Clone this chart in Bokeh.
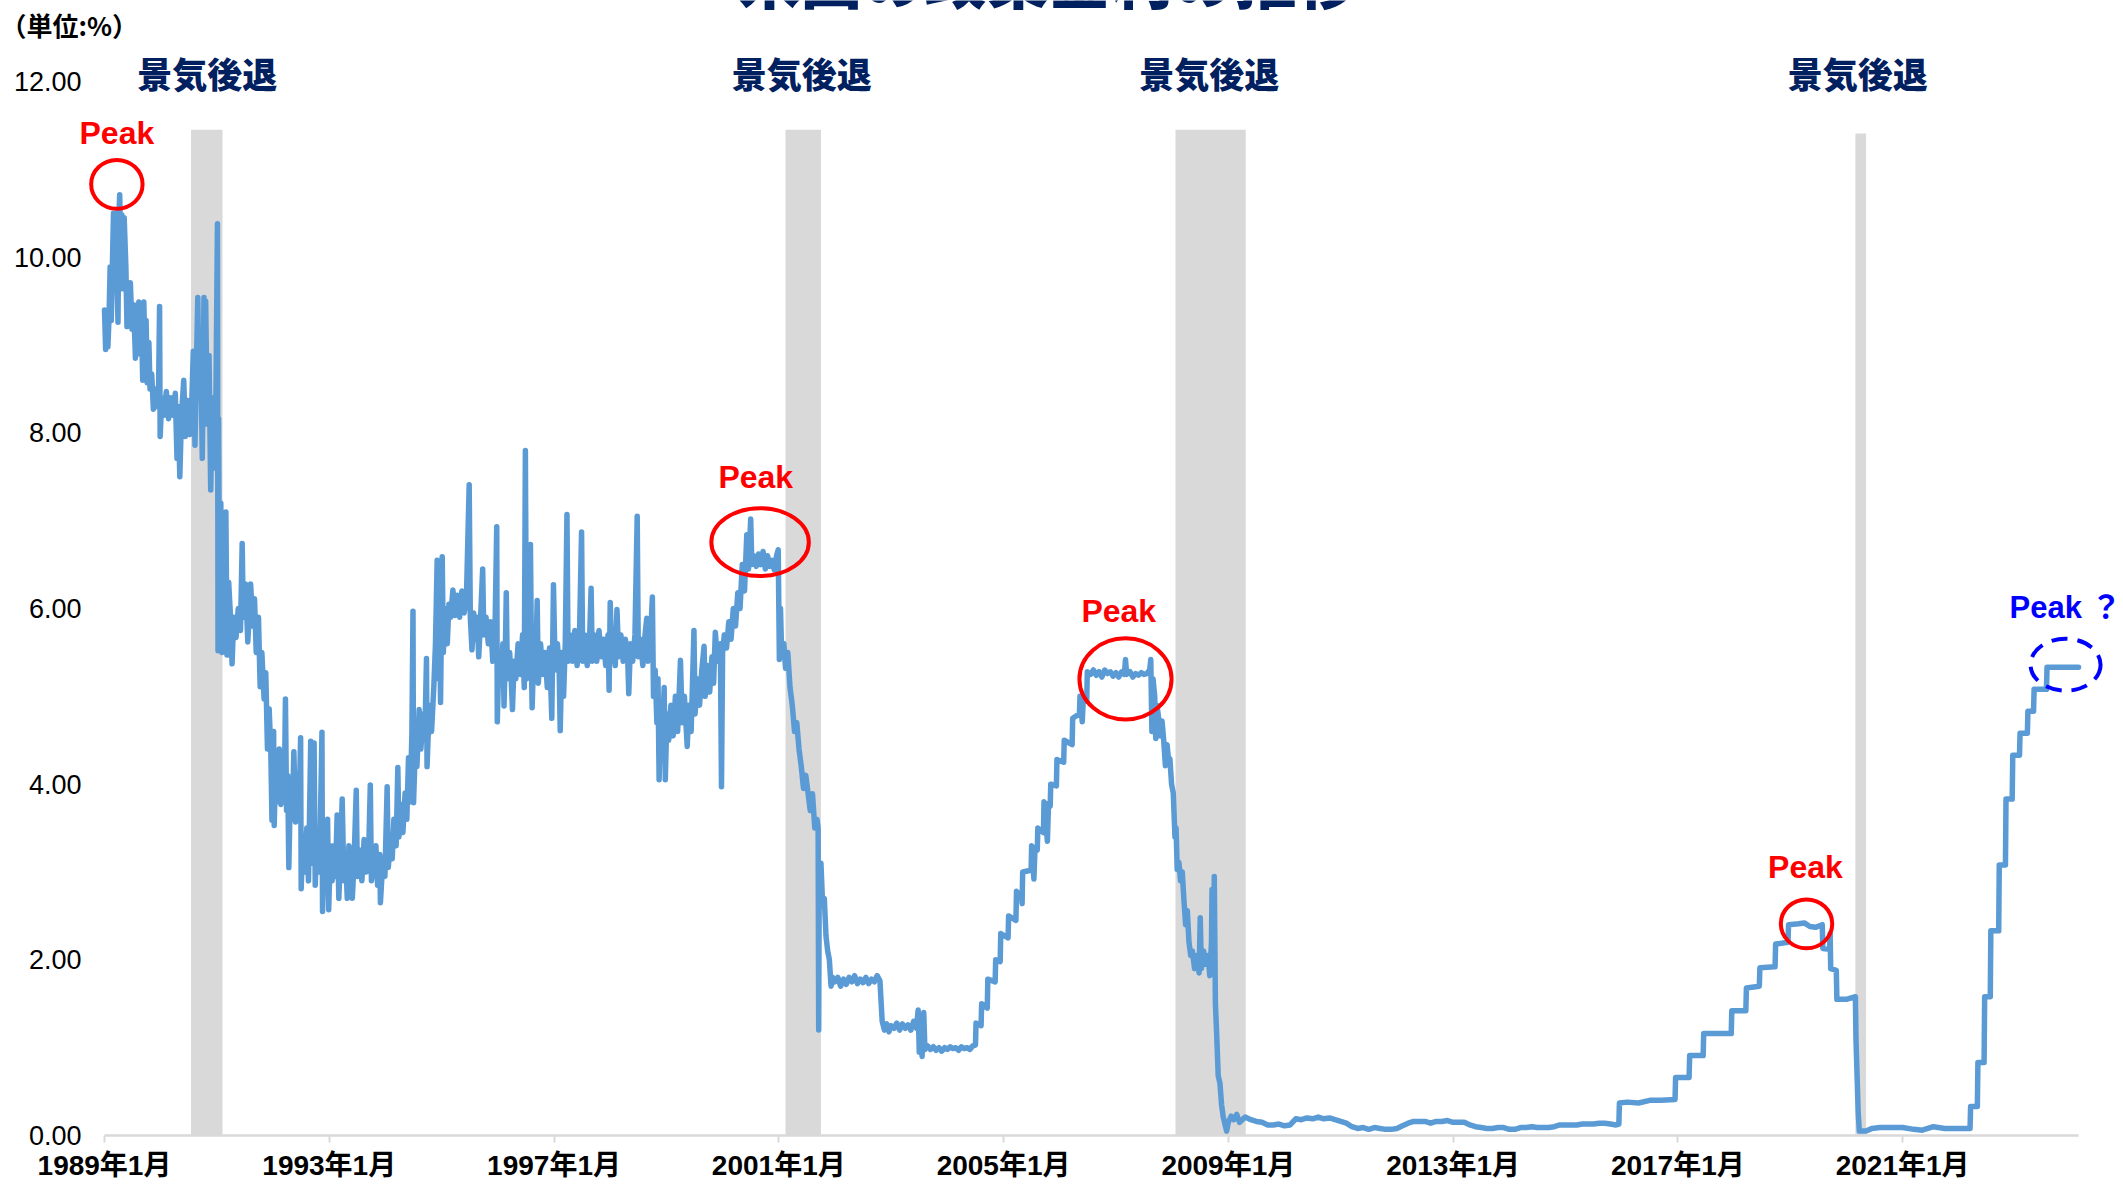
from bokeh.plotting import figure
from bokeh.models import FixedTicker, NumeralTickFormatter, Label
from bokeh.core.properties import value
from bokeh.embed import file_html
from bokeh.resources import INLINE

# ---------------- data (fractional year, effective policy rate %) ----------------
rate_1989_1990 = [
    (1989.00, 9.40), (1989.02, 8.95), (1989.04, 9.38), (1989.06, 8.98), (1989.08, 9.30),
    (1989.10, 9.89), (1989.12, 9.28), (1989.14, 9.90), (1989.16, 10.50), (1989.18, 9.95),
    (1989.20, 10.50), (1989.22, 9.85), (1989.24, 9.26), (1989.255, 10.45), (1989.27, 10.71),
    (1989.29, 10.10), (1989.31, 10.48), (1989.33, 9.64), (1989.35, 10.45), (1989.38, 9.90),
    (1989.40, 9.21), (1989.42, 9.70), (1989.44, 9.35), (1989.46, 9.71), (1989.49, 9.18),
    (1989.52, 9.46), (1989.55, 8.85), (1989.58, 9.30), (1989.61, 9.49), (1989.63, 8.90),
    (1989.66, 9.20), (1989.68, 8.60), (1989.70, 9.49), (1989.72, 8.80), (1989.74, 9.28),
    (1989.76, 8.57), (1989.79, 9.03), (1989.81, 8.50), (1989.84, 8.67), (1989.87, 8.27),
    (1989.90, 8.50), (1989.93, 8.30), (1989.96, 8.40), (1989.98, 9.44), (1989.99, 7.96),
    (1990.02, 8.40), (1990.06, 8.20), (1990.10, 8.47), (1990.14, 8.16), (1990.18, 8.40),
    (1990.22, 8.20), (1990.26, 8.45), (1990.29, 7.71), (1990.31, 8.30), (1990.34, 7.50),
    (1990.37, 8.20), (1990.41, 8.60), (1990.44, 7.96), (1990.48, 8.37), (1990.52, 7.98),
    (1990.55, 8.30), (1990.58, 8.93), (1990.61, 7.86), (1990.64, 8.90), (1990.66, 9.54),
    (1990.68, 8.40), (1990.71, 9.00), (1990.74, 7.71), (1990.77, 9.54), (1990.79, 8.20),
    (1990.80, 9.50), (1990.83, 8.10), (1990.86, 8.88), (1990.89, 7.35), (1990.92, 8.40),
    (1990.95, 7.60), (1990.98, 8.20),
]
rate_1991_1993 = [
    (1991.01, 10.38), (1991.02, 5.52), (1991.03, 8.16), (1991.05, 5.55), (1991.07, 7.20),
    (1991.09, 5.50), (1991.11, 6.90), (1991.14, 6.03), (1991.16, 7.10), (1991.18, 5.47),
    (1991.21, 6.30), (1991.24, 5.93), (1991.27, 5.37), (1991.30, 5.90), (1991.34, 5.67),
    (1991.38, 6.00), (1991.42, 5.75), (1991.45, 6.74), (1991.47, 5.90), (1991.51, 6.28),
    (1991.55, 5.62), (1991.58, 6.00), (1991.60, 6.28), (1991.64, 5.80), (1991.67, 6.11),
    (1991.70, 5.50), (1991.74, 5.90), (1991.77, 5.11), (1991.80, 5.50), (1991.84, 4.97),
    (1991.87, 5.27), (1991.90, 4.40), (1991.93, 4.86), (1991.96, 4.37), (1991.98, 3.59),
    (1992.01, 4.60), (1992.02, 3.53), (1992.05, 4.30), (1992.08, 3.80), (1992.11, 4.40),
    (1992.14, 3.77), (1992.17, 4.20), (1992.20, 3.90), (1992.22, 4.97), (1992.24, 3.70),
    (1992.26, 4.10), (1992.28, 3.05), (1992.31, 4.00), (1992.34, 3.60), (1992.37, 4.37),
    (1992.40, 3.57), (1992.43, 4.10), (1992.46, 3.60), (1992.49, 4.53), (1992.50, 2.81),
    (1992.53, 3.40), (1992.56, 3.00), (1992.60, 3.50), (1992.63, 2.90), (1992.67, 4.49),
    (1992.69, 3.10), (1992.71, 3.30), (1992.73, 4.47), (1992.75, 2.85), (1992.78, 3.40),
    (1992.81, 3.00), (1992.84, 3.50), (1992.87, 4.59), (1992.88, 2.55), (1992.91, 3.30),
    (1992.94, 2.90), (1992.97, 3.60), (1992.99, 2.57), (1993.02, 3.30), (1993.05, 2.90),
    (1993.08, 3.30), (1993.11, 2.95), (1993.14, 3.65), (1993.17, 2.70), (1993.20, 3.20),
    (1993.23, 3.83), (1993.26, 2.90), (1993.29, 3.20), (1993.32, 2.70), (1993.35, 3.30),
    (1993.38, 2.95), (1993.41, 2.70), (1993.44, 3.10), (1993.48, 3.93), (1993.50, 2.95),
    (1993.54, 3.25), (1993.58, 2.90), (1993.62, 3.37), (1993.66, 3.00), (1993.70, 3.20),
    (1993.73, 3.99), (1993.75, 2.90), (1993.79, 3.10), (1993.83, 3.30), (1993.86, 2.85),
    (1993.90, 3.20), (1993.91, 2.65), (1993.95, 3.10), (1993.99, 2.95),
]
rate_1994_1996 = [
    (1994.03, 3.97), (1994.05, 3.05), (1994.09, 3.35), (1994.12, 3.15), (1994.15, 3.60),
    (1994.19, 3.30), (1994.22, 4.19), (1994.24, 3.40), (1994.28, 3.77), (1994.31, 3.45),
    (1994.35, 3.90), (1994.38, 3.60), (1994.41, 4.30), (1994.44, 3.80), (1994.47, 4.57),
    (1994.49, 5.97), (1994.50, 3.79), (1994.53, 4.40), (1994.56, 4.20), (1994.60, 4.85),
    (1994.63, 4.40), (1994.67, 4.80), (1994.70, 4.50), (1994.73, 5.43), (1994.74, 4.20),
    (1994.78, 4.90), (1994.82, 4.60), (1994.86, 5.10), (1994.89, 5.60), (1994.92, 6.55),
    (1994.94, 5.20), (1994.97, 5.70), (1994.98, 4.93), (1995.01, 6.59), (1995.03, 5.50),
    (1995.06, 6.00), (1995.10, 5.60), (1995.13, 6.05), (1995.16, 5.90), (1995.20, 6.21),
    (1995.24, 5.92), (1995.28, 6.15), (1995.32, 5.90), (1995.36, 6.20), (1995.40, 5.95),
    (1995.44, 6.10), (1995.49, 7.41), (1995.51, 5.90), (1995.54, 5.53), (1995.57, 5.95),
    (1995.60, 5.65), (1995.63, 5.90), (1995.66, 5.45), (1995.69, 5.85), (1995.73, 6.45),
    (1995.75, 5.70), (1995.79, 5.90), (1995.83, 5.60), (1995.87, 5.85), (1995.91, 5.40),
    (1995.95, 5.77), (1995.98, 6.93), (1995.99, 4.71), (1996.02, 5.50), (1996.06, 5.20),
    (1996.09, 5.60), (1996.11, 4.89), (1996.13, 5.40), (1996.15, 6.18), (1996.17, 5.20),
    (1996.21, 5.50), (1996.24, 5.17), (1996.26, 4.85), (1996.29, 5.40), (1996.32, 5.20),
    (1996.36, 5.60), (1996.40, 5.25), (1996.44, 5.70), (1996.47, 5.10), (1996.49, 7.80),
    (1996.51, 5.20), (1996.55, 5.60), (1996.58, 6.73), (1996.60, 5.30), (1996.61, 4.87),
    (1996.64, 5.50), (1996.67, 5.20), (1996.70, 6.09), (1996.72, 5.15), (1996.76, 5.60),
    (1996.80, 5.25), (1996.84, 5.50), (1996.88, 5.10), (1996.92, 5.55), (1996.96, 4.75),
    (1996.99, 6.27),
]
rate_1997_1999 = [
    (1997.02, 5.30), (1997.06, 5.60), (1997.09, 5.35), (1997.11, 4.61), (1997.14, 5.50),
    (1997.17, 5.00), (1997.20, 5.60), (1997.23, 7.07), (1997.25, 5.40), (1997.29, 5.70),
    (1997.33, 5.40), (1997.37, 5.75), (1997.41, 5.35), (1997.45, 5.60), (1997.49, 6.87),
    (1997.51, 5.40), (1997.55, 5.70), (1997.59, 5.35), (1997.63, 5.60), (1997.66, 6.23),
    (1997.68, 5.40), (1997.72, 5.70), (1997.76, 5.40), (1997.80, 5.75), (1997.84, 5.45),
    (1997.88, 5.65), (1997.92, 5.35), (1997.96, 5.70), (1997.98, 5.07), (1998.00, 6.07),
    (1998.03, 5.40), (1998.06, 5.70), (1998.09, 5.35), (1998.12, 5.99), (1998.15, 5.45),
    (1998.19, 5.70), (1998.23, 5.40), (1998.27, 5.65), (1998.31, 5.45), (1998.33, 5.03),
    (1998.36, 5.60), (1998.40, 5.40), (1998.44, 5.70), (1998.48, 7.05), (1998.50, 5.45),
    (1998.54, 5.65), (1998.58, 5.35), (1998.62, 5.70), (1998.65, 5.89), (1998.67, 5.40),
    (1998.71, 5.55), (1998.75, 6.13), (1998.77, 5.00), (1998.80, 5.30), (1998.83, 4.70),
    (1998.85, 5.20), (1998.87, 4.05), (1998.90, 4.90), (1998.93, 4.60), (1998.96, 5.10),
    (1998.98, 4.05), (1999.01, 4.80), (1999.04, 4.50), (1999.08, 4.90), (1999.12, 4.55),
    (1999.16, 5.00), (1999.20, 4.60), (1999.25, 5.41), (1999.28, 4.70), (1999.32, 5.00),
    (1999.37, 4.43), (1999.40, 4.90), (1999.44, 4.60), (1999.49, 5.75), (1999.51, 4.80),
    (1999.55, 5.20), (1999.59, 4.90), (1999.63, 5.30), (1999.67, 5.57), (1999.69, 5.00),
    (1999.73, 5.35), (1999.77, 5.05), (1999.81, 5.45), (1999.84, 5.15), (1999.87, 5.73),
    (1999.91, 5.40), (1999.96, 5.60), (1999.98, 3.97),
]
rate_2000_2004 = [
    (2000.00, 5.50), (2000.03, 5.70), (2000.07, 5.55), (2000.11, 5.85), (2000.15, 5.65),
    (2000.19, 6.00), (2000.23, 5.80), (2000.27, 6.18), (2000.31, 6.00), (2000.35, 6.50),
    (2000.39, 6.20), (2000.43, 6.84), (2000.46, 6.45), (2000.50, 7.02), (2000.52, 6.50),
    (2000.56, 6.60), (2000.60, 6.48), (2000.64, 6.62), (2000.68, 6.50), (2000.72, 6.65),
    (2000.76, 6.45), (2000.80, 6.60), (2000.84, 6.48), (2000.88, 6.55), (2000.92, 6.44),
    (2000.96, 6.60), (2000.99, 6.67), (2001.01, 5.42), (2001.03, 6.00), (2001.05, 5.50),
    (2001.09, 5.60), (2001.12, 5.32), (2001.16, 5.50), (2001.20, 5.10), (2001.24, 4.90),
    (2001.28, 4.60), (2001.32, 4.70), (2001.36, 4.40), (2001.40, 4.20), (2001.44, 3.95),
    (2001.48, 4.10), (2001.52, 3.90), (2001.56, 3.70), (2001.60, 3.89), (2001.64, 3.50),
    (2001.68, 3.60), (2001.70, 3.50), (2001.71, 1.20), (2001.72, 3.00), (2001.75, 3.10),
    (2001.78, 2.62), (2001.81, 2.70), (2001.84, 2.27), (2001.87, 2.10), (2001.90, 2.00),
    (2001.93, 1.70), (2001.96, 1.80), (2002.00, 1.75), (2002.05, 1.80), (2002.10, 1.70),
    (2002.15, 1.78), (2002.20, 1.72), (2002.25, 1.80), (2002.30, 1.75), (2002.35, 1.82),
    (2002.40, 1.73), (2002.45, 1.78), (2002.50, 1.74), (2002.55, 1.80), (2002.60, 1.73),
    (2002.65, 1.78), (2002.70, 1.75), (2002.75, 1.82), (2002.80, 1.76), (2002.84, 1.30),
    (2002.88, 1.20), (2002.92, 1.27), (2002.96, 1.18), (2003.00, 1.25), (2003.05, 1.22),
    (2003.10, 1.28), (2003.15, 1.20), (2003.20, 1.27), (2003.25, 1.22), (2003.30, 1.26),
    (2003.35, 1.20), (2003.40, 1.30), (2003.45, 1.22), (2003.48, 1.43), (2003.50, 0.95),
    (2003.53, 1.10), (2003.55, 0.90), (2003.58, 1.40), (2003.60, 0.98), (2003.65, 1.02),
    (2003.70, 0.98), (2003.75, 1.01), (2003.80, 0.97), (2003.85, 1.00), (2003.90, 0.96),
    (2003.95, 1.00), (2004.00, 0.98), (2004.05, 1.01), (2004.10, 0.99), (2004.15, 1.00),
    (2004.20, 0.97), (2004.25, 1.01), (2004.30, 0.99), (2004.35, 1.00), (2004.40, 0.98),
    (2004.45, 1.02),
]
rate_2004_2008 = [
    (2004.50, 1.03), (2004.51, 1.28), (2004.60, 1.25), (2004.61, 1.50), (2004.71, 1.45),
    (2004.72, 1.78), (2004.85, 1.75), (2004.86, 2.00), (2004.94, 1.98), (2004.95, 2.30),
    (2005.08, 2.25), (2005.09, 2.50), (2005.22, 2.45), (2005.23, 2.78), (2005.32, 2.72),
    (2005.33, 2.64), (2005.34, 3.00), (2005.49, 3.02), (2005.50, 3.30), (2005.54, 2.92),
    (2005.56, 3.28), (2005.60, 3.25), (2005.61, 3.50), (2005.71, 3.45), (2005.72, 3.80),
    (2005.78, 3.35), (2005.80, 3.78), (2005.83, 3.75), (2005.84, 4.00), (2005.94, 3.98),
    (2005.95, 4.28), (2006.07, 4.25), (2006.08, 4.50), (2006.22, 4.45), (2006.23, 4.75),
    (2006.35, 4.80), (2006.36, 5.00), (2006.40, 4.71), (2006.42, 4.98), (2006.48, 4.95),
    (2006.49, 5.28), (2006.55, 5.25), (2006.60, 5.30), (2006.65, 5.24), (2006.70, 5.28),
    (2006.75, 5.22), (2006.80, 5.30), (2006.85, 5.26), (2006.90, 5.28), (2006.95, 5.23),
    (2007.00, 5.27), (2007.05, 5.22), (2007.10, 5.28), (2007.15, 5.25), (2007.17, 5.42),
    (2007.19, 5.25), (2007.25, 5.28), (2007.30, 5.22), (2007.35, 5.26), (2007.40, 5.24),
    (2007.45, 5.27), (2007.50, 5.25), (2007.55, 5.26), (2007.60, 5.30), (2007.62, 5.42),
    (2007.64, 4.60), (2007.66, 5.20), (2007.69, 5.00), (2007.71, 4.52), (2007.73, 4.90),
    (2007.76, 4.75), (2007.79, 4.55), (2007.82, 4.72), (2007.85, 4.50), (2007.88, 4.21),
    (2007.91, 4.45), (2007.94, 4.25), (2007.96, 4.29), (2007.99, 4.00), (2008.02, 3.90),
    (2008.05, 3.40), (2008.07, 3.50), (2008.09, 3.03), (2008.12, 3.11), (2008.15, 2.90),
    (2008.18, 3.00), (2008.21, 2.68), (2008.24, 2.40), (2008.27, 2.56), (2008.30, 2.20),
    (2008.33, 2.05), (2008.36, 2.10), (2008.40, 1.90), (2008.44, 2.05), (2008.48, 1.85),
    (2008.50, 2.48), (2008.52, 1.90), (2008.56, 2.10), (2008.60, 1.95), (2008.64, 2.05),
    (2008.67, 1.82), (2008.70, 2.20), (2008.71, 2.80), (2008.73, 2.10), (2008.75, 2.95),
    (2008.77, 1.50), (2008.79, 1.20), (2008.82, 0.68), (2008.85, 0.60), (2008.88, 0.35),
    (2008.91, 0.21), (2008.94, 0.13), (2008.97, 0.05),
]
rate_2009_2015 = [
    (2009.00, 0.15), (2009.05, 0.22), (2009.10, 0.18), (2009.15, 0.24), (2009.20, 0.15),
    (2009.30, 0.21), (2009.40, 0.18), (2009.50, 0.16), (2009.60, 0.15), (2009.70, 0.12),
    (2009.80, 0.12), (2009.90, 0.13), (2010.00, 0.11), (2010.10, 0.12), (2010.20, 0.19),
    (2010.30, 0.18), (2010.40, 0.20), (2010.50, 0.19), (2010.60, 0.21), (2010.70, 0.19),
    (2010.80, 0.20), (2010.90, 0.18), (2011.00, 0.16), (2011.10, 0.14), (2011.20, 0.10),
    (2011.30, 0.08), (2011.40, 0.09), (2011.50, 0.07), (2011.60, 0.09), (2011.70, 0.08),
    (2011.80, 0.07), (2011.90, 0.07), (2012.00, 0.08), (2012.10, 0.11), (2012.20, 0.14),
    (2012.30, 0.16), (2012.40, 0.16), (2012.50, 0.16), (2012.60, 0.14), (2012.70, 0.16),
    (2012.80, 0.16), (2012.90, 0.17), (2013.00, 0.15), (2013.10, 0.15), (2013.20, 0.15),
    (2013.30, 0.12), (2013.40, 0.10), (2013.50, 0.09), (2013.60, 0.08), (2013.70, 0.08),
    (2013.80, 0.09), (2013.90, 0.09), (2014.00, 0.07), (2014.10, 0.07), (2014.20, 0.09),
    (2014.30, 0.09), (2014.40, 0.10), (2014.50, 0.09), (2014.60, 0.09), (2014.70, 0.09),
    (2014.80, 0.10), (2014.90, 0.12), (2015.00, 0.12), (2015.10, 0.12), (2015.20, 0.12),
    (2015.30, 0.13), (2015.40, 0.13), (2015.50, 0.13), (2015.60, 0.14), (2015.70, 0.14),
    (2015.80, 0.13), (2015.90, 0.12), (2015.95, 0.13),
]
rate_2016_2024 = [
    (2015.96, 0.37), (2016.10, 0.38), (2016.30, 0.37), (2016.50, 0.40), (2016.70, 0.40),
    (2016.95, 0.41), (2016.96, 0.66), (2017.20, 0.66), (2017.21, 0.91), (2017.45, 0.91),
    (2017.46, 1.16), (2017.95, 1.16), (2017.96, 1.42), (2018.21, 1.42), (2018.22, 1.68),
    (2018.45, 1.70), (2018.46, 1.91), (2018.73, 1.92), (2018.74, 2.18), (2018.96, 2.20),
    (2018.97, 2.40), (2019.15, 2.41), (2019.25, 2.42), (2019.35, 2.38), (2019.45, 2.37),
    (2019.57, 2.40), (2019.58, 2.13), (2019.70, 2.12), (2019.71, 2.30), (2019.72, 1.90),
    (2019.82, 1.88), (2019.83, 1.55), (2020.00, 1.55), (2020.16, 1.58), (2020.17, 1.10),
    (2020.21, 0.25), (2020.23, 0.05), (2020.35, 0.05), (2020.45, 0.08), (2020.60, 0.09),
    (2020.80, 0.09), (2021.00, 0.09), (2021.20, 0.07), (2021.35, 0.06), (2021.55, 0.10),
    (2021.75, 0.08), (2022.00, 0.08), (2022.20, 0.08), (2022.21, 0.33), (2022.33, 0.33),
    (2022.34, 0.83), (2022.45, 0.83), (2022.46, 1.58), (2022.56, 1.58), (2022.57, 2.33),
    (2022.71, 2.33), (2022.72, 3.08), (2022.83, 3.08), (2022.84, 3.83), (2022.95, 3.83),
    (2022.96, 4.33), (2023.08, 4.33), (2023.09, 4.58), (2023.22, 4.58), (2023.23, 4.83),
    (2023.33, 4.83), (2023.34, 5.08), (2023.56, 5.08), (2023.57, 5.33), (2023.80, 5.33),
    (2024.00, 5.33), (2024.13, 5.33),
]

# recession periods (shaded)
recession_start = [1990.54, 2001.12, 2008.06, 2020.16]
recession_end = [1991.10, 2001.75, 2009.31, 2020.35]
recession_top = [11.45, 11.45, 11.45, 11.41]
recession_label_x = [1990.83, 2001.41, 2008.66, 2020.20]
recession_label_y = [12.10, 12.10, 12.10, 12.10]
recession_label = ["景気後退", "景気後退", "景気後退", "景気後退"]

# peak markers (red) and the open question (blue)
peak_x = [1989.22, 2000.667, 2007.17, 2019.29]
peak_y = [10.83, 6.756, 5.199, 2.41]
peak_w = [0.915, 1.735, 1.64, 0.915]
peak_h = [0.556, 0.771, 0.925, 0.556]
peak_label_x = [1989.22, 2000.59, 2007.05, 2019.27]
peak_label_y = [11.41, 7.50, 5.97, 3.06]
peak_label = ["Peak", "Peak", "Peak", "Peak"]
next_peak_x, next_peak_y, next_peak_w, next_peak_h = [2023.90], [5.36], [1.246], [0.592]
next_peak_label_x, next_peak_label_y = [2023.90], [6.01]
next_peak_label = ["Peak ？"]

tick_years = [1989, 1993, 1997, 2001, 2005, 2009, 2013, 2017, 2021]
tick_labels = ["1989年1月", "1993年1月", "1997年1月", "2001年1月", "2005年1月",
               "2009年1月", "2013年1月", "2017年1月", "2021年1月"]
y_ticks = [0, 2, 4, 6, 8, 10, 12]

title_text = "米国の政策金利の推移"
unit_text = "（単位:%）"

# ---------------- assemble ----------------
series = (rate_1989_1990 + rate_1991_1993 + rate_1994_1996 + rate_1997_1999 +
          rate_2000_2004 + rate_2004_2008 + rate_2009_2015 + rate_2016_2024)
years = [t for t, _ in series]
rates = [r for _, r in series]

CJK = "Noto Sans CJK JP"
CJK_HEAVY = "Noto Sans CJK JP Black, Noto Sans CJK JP"
LATIN = "Liberation Sans, Noto Sans CJK JP"

W, H = 2123, 1184
# the frame covers the whole canvas; the axes are pinned at x=1989 and y=0
p = figure(width=W, height=H, output_backend="svg", toolbar_location=None,
           x_range=(1987.149, 2024.931), y_range=(-0.558, 12.923),
           min_border_left=0, min_border_right=0, min_border_top=0, min_border_bottom=0,
           background_fill_color="white", border_fill_color="white")
p.outline_line_color = None
p.grid.visible = False

# recession bands
p.quad(left=recession_start, right=recession_end, bottom=0, top=recession_top,
       fill_color="#d9d9d9", line_color=None)

# rate line
p.line(years, rates, line_color="#5b9bd5", line_width=5.5, line_join="round", line_cap="round")

# recession labels
p.text(x=recession_label_x, y=recession_label_y, text=recession_label,
       text_font=value(CJK_HEAVY), text_font_style="bold", text_font_size="35px",
       text_color="#002060", text_align="center", text_baseline="middle")

# peak ellipses & labels
p.ellipse(x=peak_x, y=peak_y, width=peak_w, height=peak_h,
          fill_color=None, line_color="#ff0000", line_width=4)
p.text(x=peak_label_x, y=peak_label_y, text=peak_label,
       text_font=value(LATIN), text_font_style="bold", text_font_size="32px",
       text_color="#ff0000", text_align="center", text_baseline="middle")
p.ellipse(x=next_peak_x, y=next_peak_y, width=next_peak_w, height=next_peak_h,
          fill_color=None, line_color="#0000ff", line_width=4, line_dash="16 10")
p.text(x=next_peak_label_x, y=next_peak_label_y, text=next_peak_label,
       text_font=value(LATIN), text_font_style="bold", text_font_size="31px",
       text_color="#0000ff", text_align="center", text_baseline="middle")

# axes
xa = p.xaxis[0]
xa.fixed_location = 0
xa.ticker = FixedTicker(ticks=tick_years)
xa.major_label_overrides = {y: lab for y, lab in zip(tick_years, tick_labels)}
xa.bounds = (years[0], years[-1])
xa.axis_line_color = "#d9d9d9"
xa.axis_line_width = 2.5
xa.major_tick_line_color = "#d9d9d9"
xa.major_tick_line_width = 2
xa.major_tick_in = 0
xa.major_tick_out = 7
xa.minor_tick_line_color = None
xa.major_label_standoff = 8
xa.major_label_text_font = LATIN
xa.major_label_text_font_style = "bold"
xa.major_label_text_font_size = "28px"
xa.major_label_text_color = "black"

ya = p.yaxis[0]
ya.fixed_location = 1989.0
ya.ticker = FixedTicker(ticks=y_ticks)
ya.formatter = NumeralTickFormatter(format="0.00")
ya.axis_line_color = None
ya.major_tick_line_color = None
ya.minor_tick_line_color = None
ya.major_tick_in = 0
ya.major_tick_out = 0
ya.major_label_standoff = 23
ya.major_label_text_font = "Liberation Sans"
ya.major_label_text_font_size = "27px"
ya.major_label_text_color = "black"

# unit label and (cut-off) title
p.add_layout(Label(x=1987.15, y=12.645, text=unit_text, text_font=CJK,
                   text_font_style="bold", text_font_size="26px", text_color="black",
                   text_align="left", text_baseline="middle"))
p.add_layout(Label(x=2005.80, y=13.187, text=title_text, text_font=CJK_HEAVY,
                   text_font_style="bold", text_font_size="62px", text_color="#002060",
                   text_align="center", text_baseline="alphabetic"))

open("out.html", "w").write(file_html(p, INLINE))
